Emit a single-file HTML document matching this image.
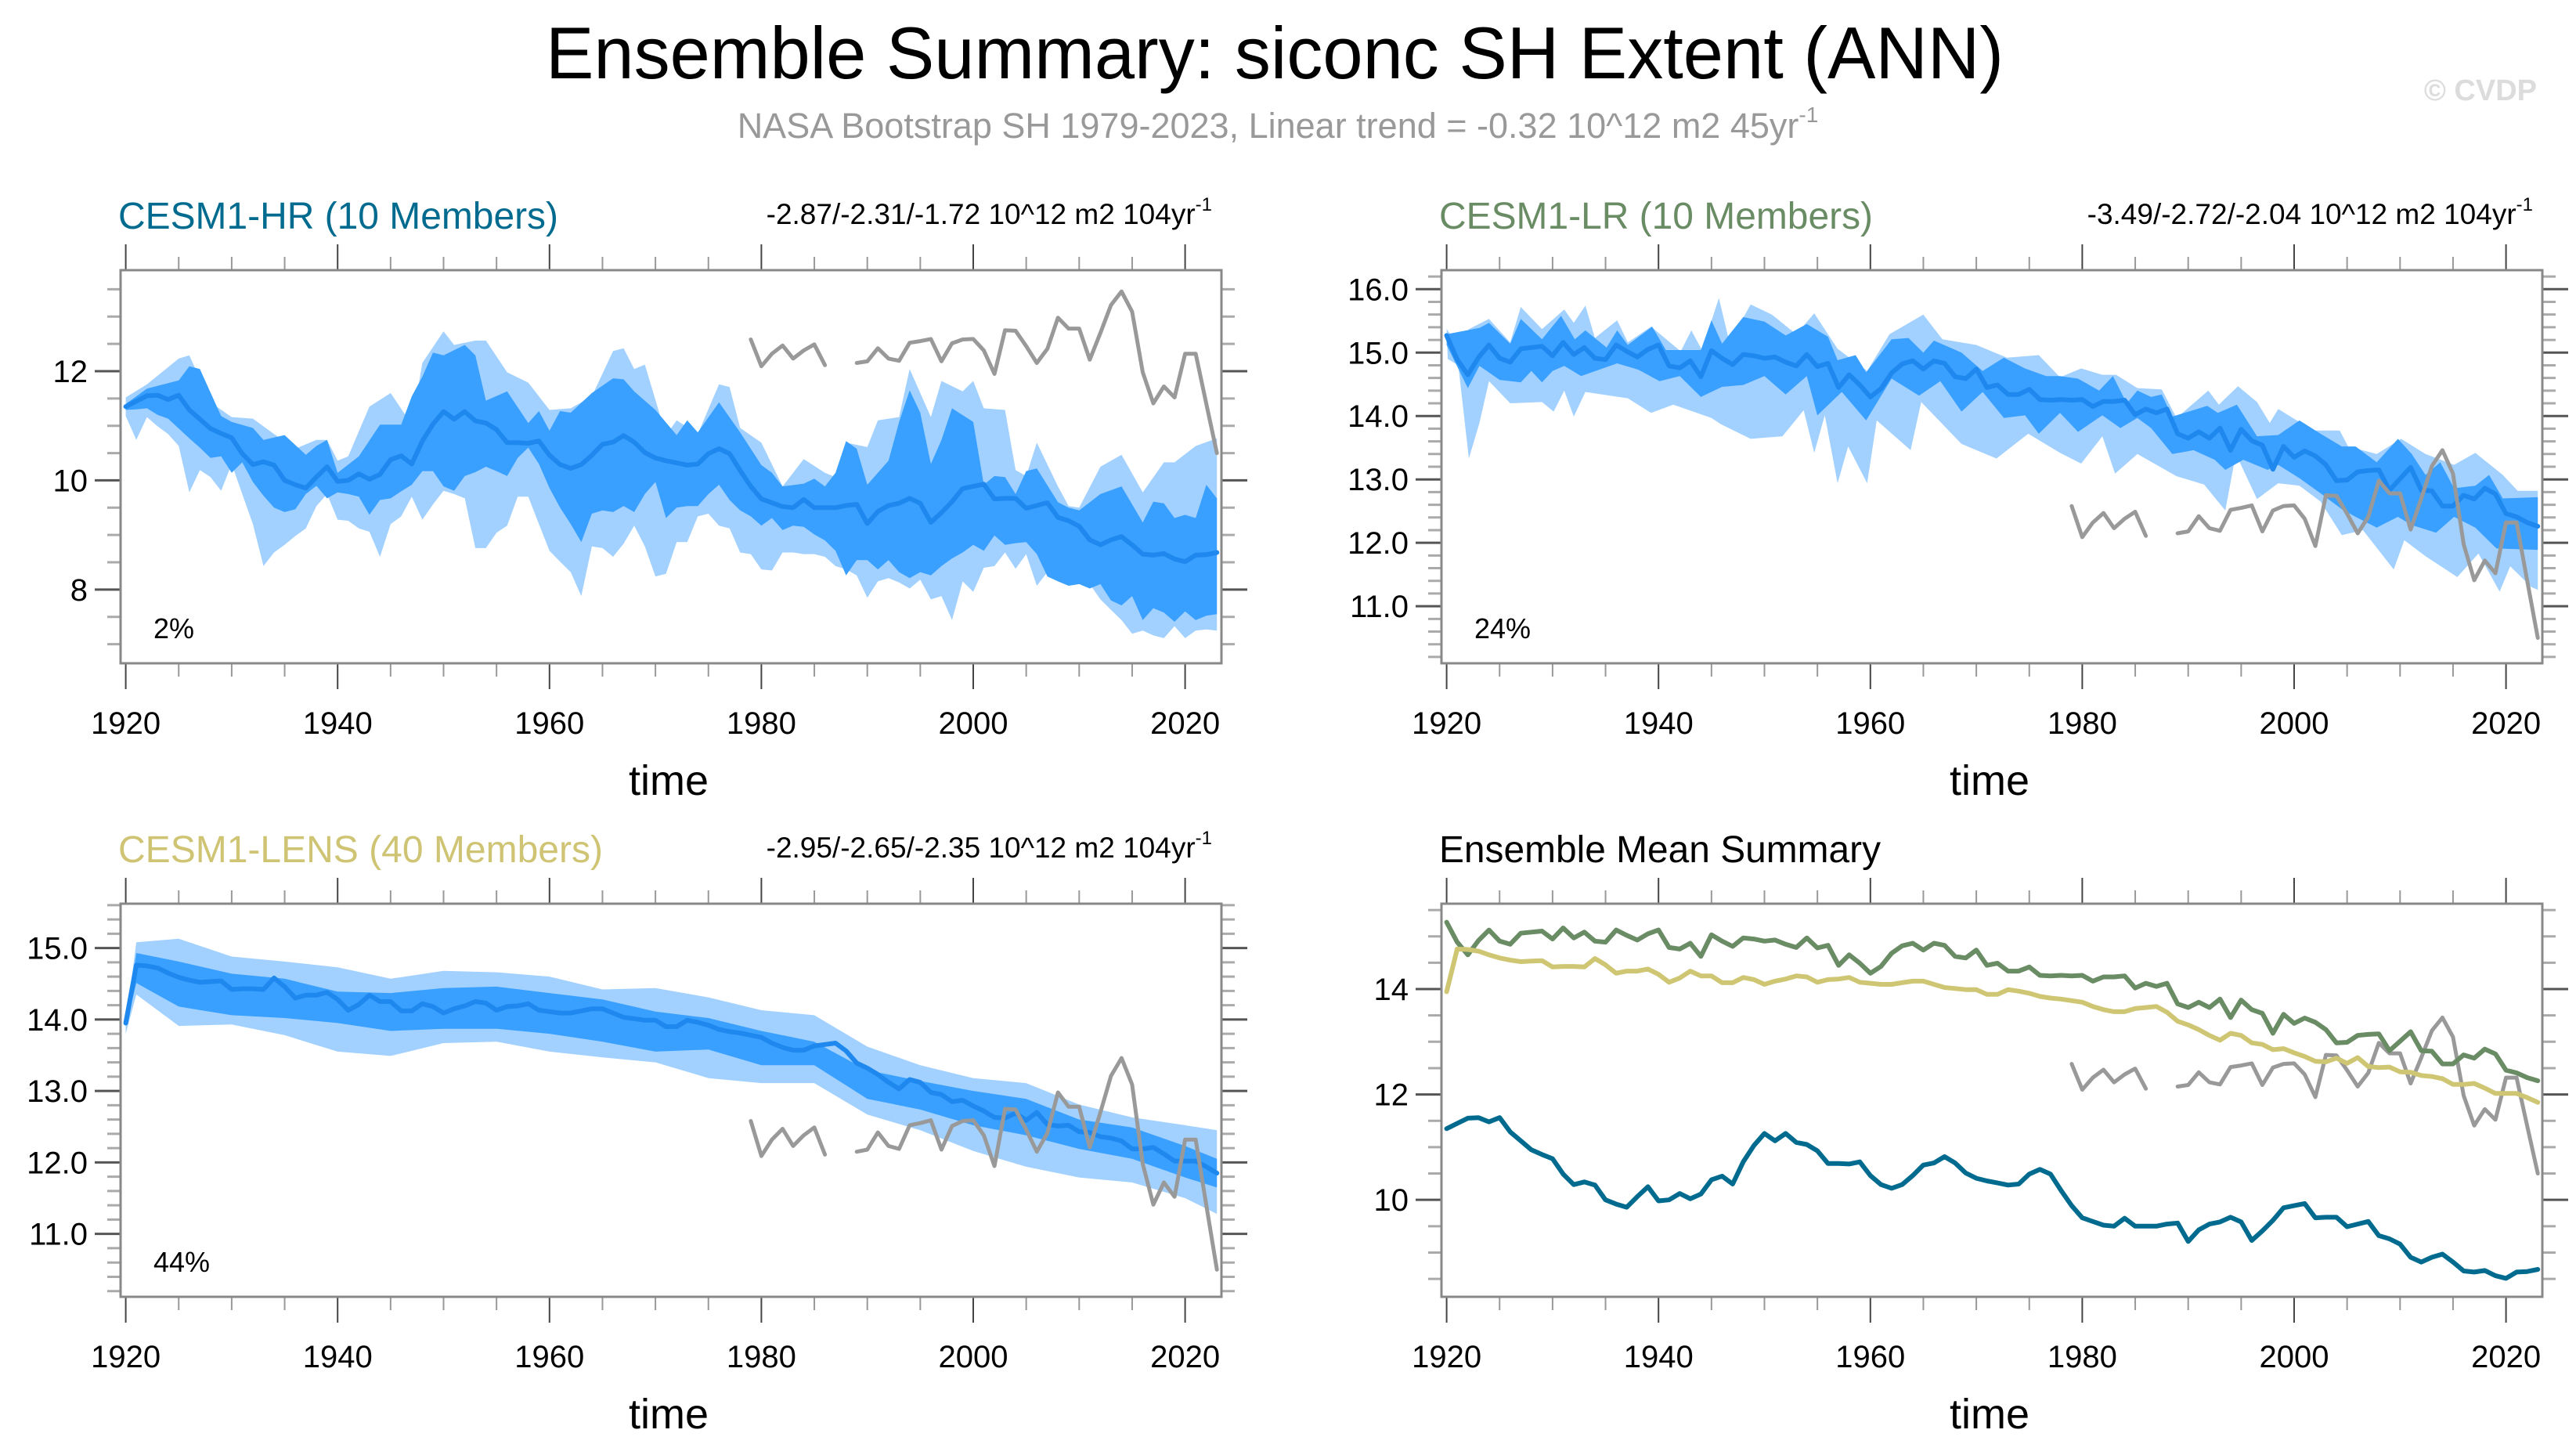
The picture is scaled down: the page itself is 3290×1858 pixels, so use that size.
<!DOCTYPE html>
<html><head><meta charset="utf-8">
<style>
html,body{margin:0;padding:0;background:#fff;}
svg{display:block;font-family:"Liberation Sans",Arial,sans-serif;}
</style></head>
<body>
<svg id="chart" width="3290" height="1858" viewBox="0 0 3290 1858" xmlns="http://www.w3.org/2000/svg">
<rect x="0" y="0" width="3290" height="1858" fill="#fff"/>
<text x="1628" y="100" font-size="94" text-anchor="middle" textLength="1862" lengthAdjust="spacingAndGlyphs" fill="#000">Ensemble Summary: siconc SH Extent (ANN)</text>
<text x="1632" y="176" font-size="45" text-anchor="middle" fill="#999">NASA Bootstrap SH 1979-2023, Linear trend = -0.32 10^12 m2 45yr<tspan dy="-20" font-size="28">-1</tspan></text>
<text x="3240" y="128" font-size="38" font-weight="bold" text-anchor="end" fill="#dcdcdc">© CVDP</text>
<g id="panels"></g>
</svg>
<script>
// ---- categories ----
const years = []; for (let y = 1920; y <= 2023; y++) years.push(y);
const obsYears = []; for (let y = 1979; y <= 2023; y++) obsYears.push(y);

// ---- observations (NASA Bootstrap) ----
const obsVals = [12.58,12.09,12.32,12.47,12.23,12.38,12.49,12.11,null,null,12.15,12.18,12.42,12.23,12.19,12.52,12.55,12.59,12.18,12.51,12.58,12.59,12.38,11.95,12.75,12.74,12.46,12.15,12.41,12.98,12.78,12.78,12.21,12.70,13.21,13.46,13.09,11.98,11.41,11.72,11.52,12.32,12.32,11.4,10.5];

// ---- ensemble means ----
const hrMean = [11.35,11.45,11.55,11.56,11.48,11.56,11.29,11.12,10.95,10.86,10.78,10.49,10.29,10.34,10.28,10.0,9.92,9.86,10.06,10.25,9.98,10.0,10.12,10.02,10.11,10.38,10.45,10.3,10.72,11.03,11.26,11.12,11.26,11.09,11.05,10.93,10.69,10.69,10.68,10.72,10.46,10.29,10.22,10.29,10.46,10.66,10.7,10.82,10.7,10.51,10.41,10.36,10.32,10.28,10.3,10.49,10.58,10.49,10.18,9.89,9.66,9.59,9.52,9.5,9.65,9.5,9.5,9.5,9.54,9.56,9.21,9.43,9.54,9.58,9.67,9.58,9.23,9.41,9.61,9.85,9.89,9.93,9.66,9.67,9.67,9.49,9.54,9.59,9.32,9.26,9.16,8.91,8.82,8.91,8.97,8.82,8.65,8.63,8.66,8.56,8.51,8.63,8.64,8.68];
const lrMean = [15.27,14.89,14.65,14.92,15.12,14.91,14.85,15.06,15.08,15.1,14.95,15.16,14.97,15.08,14.91,14.89,15.12,15.02,14.93,15.05,15.12,14.79,14.76,14.87,14.62,15.03,14.91,14.81,14.97,14.95,14.91,14.93,14.85,14.79,14.97,14.78,14.83,14.45,14.65,14.49,14.3,14.43,14.68,14.82,14.87,14.74,14.87,14.83,14.62,14.59,14.74,14.45,14.49,14.34,14.34,14.42,14.26,14.25,14.26,14.25,14.26,14.15,14.23,14.23,14.25,14.02,14.11,14.05,14.11,13.72,13.65,13.75,13.65,13.81,13.46,13.79,13.61,13.54,13.16,13.52,13.35,13.45,13.37,13.23,12.98,12.99,13.12,13.14,13.15,12.83,13.01,13.19,12.83,12.82,12.58,12.58,12.75,12.69,12.86,12.77,12.46,12.41,12.32,12.26];
const lensMean = [13.95,14.76,14.75,14.72,14.65,14.59,14.55,14.52,14.53,14.54,14.42,14.43,14.43,14.42,14.58,14.46,14.3,14.34,14.34,14.38,14.28,14.13,14.21,14.34,14.25,14.25,14.12,14.12,14.22,14.18,14.09,14.15,14.19,14.25,14.23,14.13,14.18,14.19,14.22,14.13,14.11,14.09,14.09,14.12,14.15,14.15,14.09,14.03,14.01,13.99,13.99,13.9,13.9,13.99,13.96,13.92,13.86,13.83,13.81,13.78,13.75,13.67,13.61,13.57,13.57,13.63,13.65,13.67,13.56,13.39,13.32,13.23,13.12,13.03,13.16,13.12,12.98,12.95,12.85,12.87,12.79,12.72,12.63,12.62,12.69,12.59,12.70,12.53,12.51,12.52,12.43,12.42,12.36,12.34,12.30,12.19,12.19,12.21,12.12,12.02,12.02,12.02,11.94,11.85];

// ---- CESM1-HR spread ----
const hrLightUpYears = [1920,1922,1925,1926,1928,1930,1932,1934,1936,1938,1939,1940,1941,1943,1945,1947,1948,1950,1951,1953,1954,1956,1958,1960,1962,1964,1966,1967,1968,1969,1971,1972,1974,1976,1977,1978,1980,1982,1983,1984,1986,1987,1988,1990,1991,1993,1994,1996,1997,1999,2000,2001,2003,2004,2005,2006,2008,2009,2010,2012,2014,2016,2018,2019,2021,2023];
const hrLightUpVals = [11.52,11.76,12.23,12.29,11.43,11.16,11.13,10.85,10.58,10.74,10.74,10.36,10.44,11.35,11.6,11.02,12.15,12.73,12.48,12.56,12.56,11.98,11.79,11.29,11.32,11.54,12.37,12.42,12.04,12.12,10.83,11.1,10.85,11.76,11.71,10.96,10.69,9.89,10.14,10.39,10.14,10.06,10.69,10.61,11.1,11.16,12.04,11.16,11.82,11.63,11.82,11.32,11.29,10.19,10.08,10.69,9.89,9.53,9.5,10.25,10.47,9.78,10.33,10.33,10.63,10.77];
const hrDarkUpYears = [1920,1922,1925,1926,1927,1929,1930,1932,1933,1935,1937,1938,1939,1940,1942,1944,1946,1947,1948,1949,1950,1952,1953,1954,1956,1958,1959,1960,1961,1962,1964,1966,1967,1968,1970,1972,1973,1974,1976,1978,1980,1981,1982,1984,1985,1986,1987,1988,1989,1990,1992,1993,1994,1995,1996,1997,1998,2000,2001,2002,2003,2004,2005,2006,2008,2009,2010,2012,2014,2016,2017,2018,2019,2020,2021,2022,2023];
const hrDarkUpVals = [11.4,11.68,11.83,12.09,12.04,11.18,11.07,10.96,10.74,10.83,10.47,10.63,10.74,10.14,10.44,11.02,11.02,11.54,11.9,12.34,12.29,12.48,12.29,11.46,11.63,11.05,11.27,10.91,11.27,11.24,11.6,11.87,11.85,11.63,11.29,10.83,11.1,10.88,11.43,10.88,10.28,10.14,9.89,9.94,10.03,9.89,10.14,10.72,10.58,9.92,10.36,11.07,11.65,11.24,10.3,10.74,11.32,11.07,9.92,10.08,10.06,9.75,10.17,10.22,9.6,9.5,9.45,9.75,9.89,9.23,9.61,9.58,9.31,9.37,9.31,9.92,9.67];
const hrDarkLowVals = [11.29,11.3,11.32,11.2,11.13,10.95,10.77,10.6,10.41,10.44,10.14,10.33,9.97,9.72,9.5,9.42,9.47,9.75,9.9,9.67,9.78,9.75,9.7,9.37,9.64,9.67,9.8,9.92,10.17,10.17,9.89,9.81,10.08,10.15,10.25,10.17,10.08,10.41,10.6,10.3,9.86,9.5,9.2,8.87,9.39,9.45,9.42,9.53,9.42,9.75,9.97,9.31,9.5,9.53,9.53,9.75,9.92,9.64,9.45,9.34,9.17,9.31,9.09,9.17,9.15,9.01,8.9,8.71,8.26,8.54,8.54,8.37,8.54,8.32,8.21,8.32,8.26,8.43,8.57,8.68,8.82,8.71,8.99,8.82,8.85,8.87,8.65,8.24,8.15,8.07,8.1,8.02,8.1,7.8,7.71,7.88,7.44,7.66,7.58,7.41,7.6,7.44,7.52,7.55];
const hrLightLowVals = [11.18,10.74,11.16,10.99,10.85,10.63,9.78,10.19,10.06,9.81,10.3,9.75,9.2,8.43,8.68,8.82,8.98,9.12,9.53,9.75,9.28,9.26,9.12,9.06,8.6,9.2,9.34,9.7,9.28,9.56,9.81,9.75,9.67,8.76,8.76,9.04,9.17,9.7,9.7,9.2,8.71,8.51,8.32,7.88,8.79,8.76,8.6,8.84,9.17,8.79,8.24,8.29,8.87,8.87,9.34,9.39,9.17,9.12,8.68,8.65,8.37,8.35,8.68,8.68,8.65,8.65,8.6,8.43,8.37,8.26,7.85,8.15,8.21,8.13,8.02,8.18,7.82,7.88,7.44,8.15,7.96,8.4,8.43,8.68,8.38,8.65,8.07,8.32,8.46,8.29,8.13,8.1,7.82,7.63,7.44,7.19,7.25,7.16,7.11,7.33,7.11,7.25,7.27,7.25];

// ---- CESM1-LR spread ----
const lrLightUpYears = [1920,1921.1,1922.1,1924,1926,1927,1929,1931.1,1932,1933.1,1934,1936.1,1937.1,1939.3,1942.1,1943.1,1944.1,1945.7,1946.7,1948.7,1950.7,1953,1954.7,1956.9,1959.7,1961.8,1965,1966.8,1970,1972.9,1975.9,1977.9,1979.9,1981.9,1983.2,1985.2,1987.5,1988.9,1991.9,1992.9,1994.7,1996.5,1997.7,1998.5,2001.8,2004.3,2005.1,2007.8,2010.1,2012.4,2015.1,2017.1,2019.7,2021.1,2023];
const lrLightUpVals = [15.37,15.12,15.37,15.53,15.16,15.72,15.37,15.68,15.47,15.74,15.23,15.51,15.16,15.41,15.02,15.35,15.04,15.86,15.16,15.76,15.6,15.29,15.62,15.06,14.71,15.29,15.6,15.21,15.12,14.92,14.96,14.61,14.75,14.65,14.65,14.44,14.42,13.97,14.4,14.18,14.47,14.22,13.89,14.11,13.77,13.77,13.52,13.4,13.64,13.4,13.23,13.42,13.07,12.82,12.82];
const lrDarkUpYears = [1920,1923.1,1924,1926,1927,1929,1930.8,1932.1,1933.1,1935.1,1936.1,1937.1,1939.4,1940.7,1942,1944,1945,1946,1948,1950,1952,1954,1956,1956.9,1958.6,1959.6,1962,1963.6,1965,1966,1968.6,1970.6,1972.6,1974.6,1976.6,1977.9,1979.6,1981.6,1982.9,1984.2,1985.2,1986.5,1987.5,1988.5,1991.8,1992.8,1994.6,1996.5,1998.5,2000.5,2002.5,2004.5,2005.8,2007.8,2009.8,2011.1,2012.4,2013.8,2015.1,2017.1,2018.4,2019.7,2023];
const lrDarkUpVals = [15.29,15.39,15.47,15.14,15.53,15.21,15.58,15.21,15.35,15.08,15.35,15.12,15.41,15.04,15.04,15.04,15.51,15.14,15.56,15.49,15.27,15.45,15.25,14.88,14.96,14.69,15.21,15.23,15.0,15.19,15.0,14.71,14.92,14.75,14.63,14.63,14.59,14.4,14.63,14.2,14.4,14.3,14.34,13.99,14.16,14.05,14.18,13.68,13.7,13.93,13.72,13.52,13.52,13.27,13.64,13.4,13.07,13.27,12.86,12.9,13.07,12.7,12.72];
const lrDarkLowYears = [1920,1922,1923.1,1925,1927,1928,1929,1930,1931.1,1932.7,1936.1,1938.1,1940.1,1942,1944,1946,1948,1950,1952,1954,1955,1957.3,1959.6,1962,1964.6,1966.6,1968.6,1970.6,1972.6,1974.6,1975.9,1977.9,1979.6,1981.9,1983.6,1985.2,1986.5,1988.5,1990.5,1992.5,1993.5,1995.2,1997.5,1998.5,2000.5,2002.5,2004.5,2005.8,2007.8,2009.8,2011.1,2013.4,2015.1,2017.1,2019.1,2023];
const lrDarkLowVals = [15.12,14.44,14.79,14.57,14.53,14.71,14.53,14.71,14.79,14.63,14.83,14.73,14.55,14.63,14.3,14.46,14.49,14.63,14.34,14.63,14.01,14.38,13.93,14.59,14.32,14.55,14.07,14.38,13.97,14.01,13.72,14.05,13.75,14.01,13.81,13.97,13.81,13.4,13.46,13.31,13.15,13.31,13.15,13.23,13.02,12.78,12.53,12.41,12.24,12.41,12.28,12.16,12.41,12.24,11.91,11.89];
const lrLightLowYears = [1920.1,1921.1,1922.1,1923.1,1924,1926,1929,1930.1,1931.1,1932,1933.1,1937.1,1939.3,1941.4,1945,1945.9,1948.7,1951.7,1953.7,1954.7,1955.7,1956.9,1957.9,1959.7,1960.6,1963.8,1964.8,1968.6,1971.9,1974.9,1977.9,1979.9,1981.9,1983.1,1985.2,1988.9,1991.5,1993.5,1994.5,1996.5,1998.5,2000.5,2002.5,2004.5,2006.5,2009.4,2010.4,2012.4,2015.4,2017.4,2019.4,2020.4,2022.4,2023];
const lrLightLowVals = [14.9,14.8,13.33,13.89,14.55,14.2,14.22,14.07,14.4,13.99,14.38,14.28,14.05,14.18,13.97,13.87,13.64,13.68,14.09,13.42,14.01,12.94,13.52,12.94,13.93,13.46,14.22,13.56,13.33,13.72,13.42,13.25,13.68,13.09,13.4,13.05,12.92,12.51,13.4,12.69,12.94,12.9,12.65,12.12,12.2,11.58,12.04,11.79,11.46,11.83,11.23,11.63,11.3,11.26];

// ---- CESM1-LENS spread (sampled years) ----
const lensSpreadYears = [1920,1921,1925,1930,1935,1940,1945,1950,1955,1960,1965,1970,1975,1980,1985,1990,1995,2000,2005,2010,2015,2020,2023];
const lensLightUpVals = [13.95,15.08,15.13,14.88,14.81,14.73,14.57,14.68,14.66,14.6,14.42,14.44,14.31,14.13,14.06,13.62,13.36,13.18,13.11,12.81,12.63,12.52,12.45];
const lensDarkUpVals = [13.93,14.93,14.81,14.64,14.57,14.39,14.37,14.44,14.46,14.37,14.28,14.11,14.02,13.84,13.69,13.29,13.14,13.0,12.89,12.6,12.49,12.23,12.05];
const lensDarkLowVals = [13.9,14.51,14.18,14.06,14.02,13.95,13.84,13.87,13.87,13.8,13.69,13.55,13.58,13.36,13.36,12.89,12.74,12.52,12.38,12.19,12.05,11.79,11.65];
const lensLightLowVals = [13.8,14.35,13.91,13.93,13.78,13.55,13.49,13.67,13.69,13.55,13.47,13.4,13.18,13.11,13.11,12.67,12.45,12.16,11.94,11.79,11.72,11.5,11.28];

// ---- tick labels ----
const xTickLabels = [1920,1940,1960,1980,2000,2020];
const hrYTicks = [8,10,12];
const lrYTicks = ["11.0","12.0","13.0","14.0","15.0","16.0"];
const lensYTicks = ["11.0","12.0","13.0","14.0","15.0"];
const meanYTicks = [10,12,14];

const NS = "http://www.w3.org/2000/svg";
const root = document.getElementById("panels");
function mk(tag, attrs, parent) {
  const e = document.createElementNS(NS, tag);
  for (const k in attrs) e.setAttribute(k, attrs[k]);
  (parent || root).appendChild(e);
  return e;
}
const LIGHT = "#a2d1ff", DARK = "#3aa0ff", MEANC = "#1f88ee", OBSC = "#999999";

function makePanel(p) {
  const g = mk("g", {});
  
  
  const xs = y => p.x0 + 6.6 + (y - 1920) * 13.53;
  const ys = v => p.y0 + (p.vmax - v) / (p.vmax - p.vmin) * (p.y1 - p.y0);
  p.xs = xs; p.ys = ys; p.g = g;
  for (let yr = 1920; yr <= 2023; yr += 5) {
    const major = (yr - 1920) % 20 === 0;
    const L = major ? 33 : 17;
    const x = xs(yr);
    for (const [yy, d] of [[p.y0, -1], [p.y1, 1]]) {
      const t = mk("line", {x1: x, x2: x, y1: yy, y2: yy + d * L, stroke: major ? "#444" : "#999", "stroke-width": 2}, g);
      
      
    }
  }
  xTickLabels.forEach(yr => {
    const t = mk("text", {x: xs(yr), y: p.y1 + 90, "font-size": 40, "text-anchor": "middle", fill: "#000"}, g);
    t.textContent = yr;
    
    
  });
  const eps = 1e-6;
  for (let v = Math.ceil(p.vmin / p.minor - eps) * p.minor; v <= p.vmax + eps; v += p.minor) {
    const major = Math.abs(v / p.major - Math.round(v / p.major)) < 1e-4;
    const L = major ? 33 : 17;
    const y = ys(v);
    for (const [xx, d] of [[p.x0, -1], [p.x1, 1]]) {
      const t = mk("line", {x1: xx, x2: xx + d * L, y1: y, y2: y, stroke: major ? "#555" : "#aaa", "stroke-width": 3}, g);
      
      
    }
  }
  p.yTicks.forEach(lbl => {
    const t = mk("text", {x: p.x0 - 42, y: ys(parseFloat(lbl)) + 14, "font-size": 40, "text-anchor": "end", fill: "#000"}, g);
    t.textContent = lbl;
    
    
  });
  const clip = mk("clipPath", {id: "clip-" + p.name}, g);
  mk("rect", {x: p.x0, y: p.y0, width: p.x1 - p.x0, height: p.y1 - p.y0}, clip);
  const inner = mk("g", {"clip-path": "url(#clip-" + p.name + ")"}, g);
  
  
  p.inner = inner;
  const tl = mk("text", {x: (p.x0 + p.x1) / 2 - 3, y: p.y1 + 168, "font-size": 54, "text-anchor": "middle", fill: "#000"}, g);
  tl.textContent = "time";
  
  
  const pt = mk("text", {x: p.x0 - 3, y: p.y0 - 53, "font-size": 48, fill: p.titleColor, textLength: p.titleLen, lengthAdjust: "spacingAndGlyphs"}, g);
  pt.textContent = p.title;
  
  
  if (p.trend) {
    const tr = mk("text", {x: p.x1 - 12, y: p.y0 - 59, "font-size": 37, "text-anchor": "end", fill: "#000"}, g);
    tr.textContent = p.trend;
    const sup = mk("tspan", {dy: -17, "font-size": 24}, tr);
    sup.textContent = "-1";
    
    
  }
  if (p.pct) {
    const pc = mk("text", {x: p.x0 + 42, y: p.y1 - 32, "font-size": 36, fill: "#000"}, g);
    pc.textContent = p.pct;
    
    
  }
  return p;
}
function frame(p) {
  const f = mk("rect", {x: p.x0, y: p.y0, width: p.x1 - p.x0, height: p.y1 - p.y0, fill: "none", stroke: "#888", "stroke-width": 3}, p.g);
  
  
}
function band(p, upY, upV, loY, loV, color, name) {
  const pts = [];
  for (let i = 0; i < Math.min(upY.length, upV.length); i++) pts.push(p.xs(upY[i]).toFixed(1) + "," + p.ys(upV[i]).toFixed(1));
  for (let i = Math.min(loY.length, loV.length) - 1; i >= 0; i--) pts.push(p.xs(loY[i]).toFixed(1) + "," + p.ys(loV[i]).toFixed(1));
  const poly = mk("polygon", {points: pts.join(" "), fill: color, stroke: "none"}, p.inner);
  
  
}
function line(p, xsArr, vals, color, w, name) {
  let d = "", pen = false;
  for (let i = 0; i < Math.min(xsArr.length, vals.length); i++) {
    if (vals[i] === null) { pen = false; continue; }
    d += (pen ? "L" : "M") + p.xs(xsArr[i]).toFixed(1) + "," + p.ys(vals[i]).toFixed(1);
    pen = true;
  }
  const pa = mk("path", {d: d, fill: "none", stroke: color, "stroke-width": w, "stroke-linejoin": "round", "stroke-linecap": "round"}, p.inner);
  
  
}

const pHR = makePanel({name: "panel-cesm1-hr", x0: 154, x1: 1560, y0: 345, y1: 847, vmin: 6.65, vmax: 13.85, minor: 0.5, major: 2, yTicks: hrYTicks.map(String),
  title: "CESM1-HR (10 Members)", titleColor: "#006b8f", titleLen: 562, trend: "-2.87/-2.31/-1.72 10^12 m2 104yr", pct: "2%"});
band(pHR, hrLightUpYears, hrLightUpVals, years, hrLightLowVals, LIGHT, "spread-light-band");
band(pHR, hrDarkUpYears, hrDarkUpVals, years, hrDarkLowVals, DARK, "spread-dark-band");
line(pHR, years, hrMean, MEANC, 6, "ensemble-mean-line");
line(pHR, obsYears, obsVals, OBSC, 5, "observations-line");
frame(pHR);

const pLR = makePanel({name: "panel-cesm1-lr", x0: 1841, x1: 3247, y0: 345, y1: 847, vmin: 10.1, vmax: 16.3, minor: 0.2, major: 1, yTicks: lrYTicks,
  title: "CESM1-LR (10 Members)", titleColor: "#6a8c65", titleLen: 554, trend: "-3.49/-2.72/-2.04 10^12 m2 104yr", pct: "24%"});
band(pLR, lrLightUpYears, lrLightUpVals, lrLightLowYears, lrLightLowVals, LIGHT, "spread-light-band");
band(pLR, lrDarkUpYears, lrDarkUpVals, lrDarkLowYears, lrDarkLowVals, DARK, "spread-dark-band");
line(pLR, years, lrMean, MEANC, 6, "ensemble-mean-line");
line(pLR, obsYears, obsVals, OBSC, 5, "observations-line");
frame(pLR);

const pLE = makePanel({name: "panel-cesm1-lens", x0: 154, x1: 1560, y0: 1154, y1: 1656, vmin: 10.12, vmax: 15.62, minor: 0.2, major: 1, yTicks: lensYTicks,
  title: "CESM1-LENS (40 Members)", titleColor: "#cfc473", titleLen: 619, trend: "-2.95/-2.65/-2.35 10^12 m2 104yr", pct: "44%"});
band(pLE, lensSpreadYears, lensLightUpVals, lensSpreadYears, lensLightLowVals, LIGHT, "spread-light-band");
band(pLE, lensSpreadYears, lensDarkUpVals, lensSpreadYears, lensDarkLowVals, DARK, "spread-dark-band");
line(pLE, years, lensMean, MEANC, 6, "ensemble-mean-line");
line(pLE, obsYears, obsVals, OBSC, 5, "observations-line");
frame(pLE);

const pMS = makePanel({name: "panel-ensemble-mean-summary", x0: 1841, x1: 3247, y0: 1154, y1: 1656, vmin: 8.16, vmax: 15.62, minor: 0.5, major: 2, yTicks: meanYTicks.map(String),
  title: "Ensemble Mean Summary", titleColor: "#000", titleLen: 564, trend: null, pct: null});
line(pMS, obsYears, obsVals, OBSC, 5, "observations-line");
line(pMS, years, lrMean, "#6a8c65", 6, "cesm1-lr-mean-line");
line(pMS, years, lensMean, "#cfc673", 6, "cesm1-lens-mean-line");
line(pMS, years, hrMean, "#006b8f", 6, "cesm1-hr-mean-line");
frame(pMS);
</script>
</body></html>
